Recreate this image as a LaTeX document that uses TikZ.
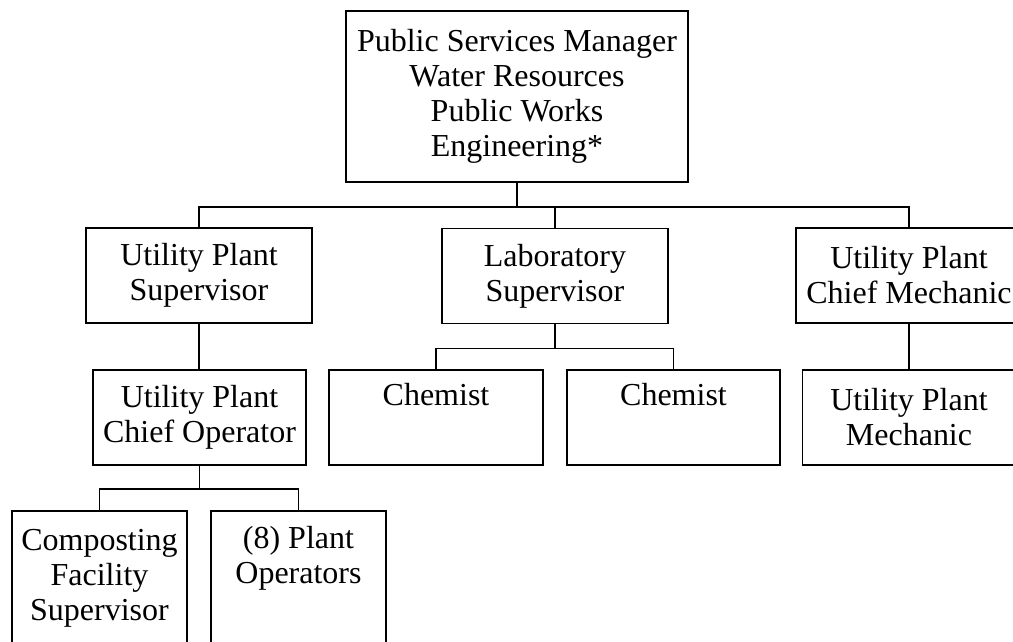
\documentclass[tikz,border=0pt]{standalone}
\usepackage{fontspec}
\setmainfont{Liberation Serif}
\usetikzlibrary{positioning,calc}

\begin{document}
\begin{tikzpicture}[
  x=1pt,y=-1pt,
  font=\fontsize{32}{35}\selectfont,
  unit/.style={draw,rectangle,line width=1.6pt,align=center,inner xsep=4pt,inner ysep=0pt,minimum height=95pt},
  link/.style={line width=1.6pt}
]
\useasboundingbox (0,0) rectangle (1013,641);
\clip (0,0) rectangle (1013,641);
% boxes
\node[unit,minimum width=342pt,minimum height=171pt] (top) at (517,96.5) {Public Services Manager\\Water Resources\\Public Works\\Engineering*};
\node[unit,minimum width=226pt] (ups) at (199,275.5) {Utility Plant\\Supervisor};
\node[unit,minimum width=226pt] (lab) at (555,276) {Laboratory\\Supervisor};
\node[unit,minimum width=226pt] (chiefmech) at (909,275.5) {Utility Plant\\Chief Mechanic};
\node[unit,minimum width=213pt] (chiefop) at (199.5,417.5) {Utility Plant\\Chief Operator};
\node[unit,minimum width=214pt] (chem1) at (436,417.5) {Chemist\\\strut};
\node[unit,minimum width=213pt] (chem2) at (673.5,417.5) {Chemist\\\strut};
\node[unit,minimum width=213pt] (mech) at (909,417.5) {Utility Plant\\Mechanic};
\node[unit,minimum width=175pt,minimum height=134pt] (compost) at (99.5,578) {Composting\\Facility\\Supervisor};
\node[unit,minimum width=175pt,minimum height=134pt] (ops) at (298.5,578) {(8) Plant\\Operators\\\strut};
% connectors
\draw[link] (top.south) -- ++(0,24) coordinate (busA);
\draw[link] (ups.north) |- (busA) -| (chiefmech.north);
\draw[link] (lab.north) -- (lab.north |- busA);
\draw[link] (ups.south) -- (ups.south |- chiefop.north);
\draw[link] (lab.south) -- ++(0,24) coordinate (busB);
\draw[link] (chem1.north) |- (busB) -| (chem2.north);
\draw[link] (chiefmech.south) -- (mech.north);
\draw[link] (chiefop.south) -- ++(0,23) coordinate (busC);
\draw[link] (compost.north) |- (busC) -| (ops.north);
\end{tikzpicture}
\end{document}
